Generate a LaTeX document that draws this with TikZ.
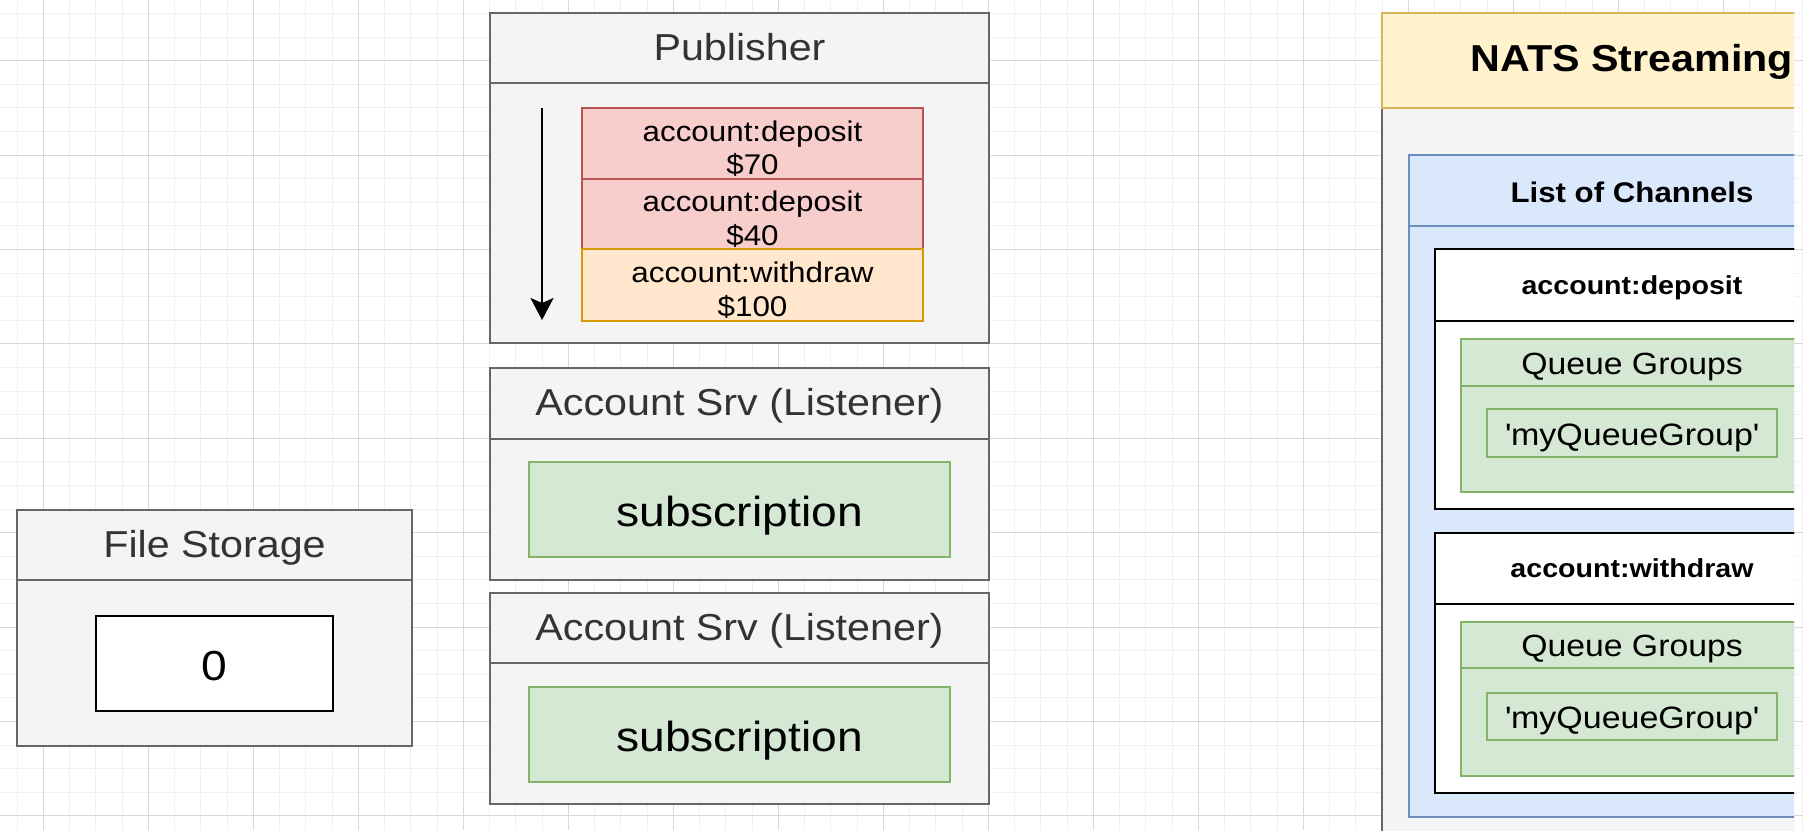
\documentclass[tikz,border=0pt]{standalone}
\usepackage{fontspec}
\setmainfont{Liberation Sans}[FakeStretch=1.1]
\usetikzlibrary{arrows.meta}
\definecolor{panefill}{HTML}{F4F4F4}
\definecolor{paneline}{HTML}{666666}
\definecolor{panetext}{HTML}{333333}
\definecolor{redfill}{HTML}{F8CECC}
\definecolor{redline}{HTML}{B85450}
\definecolor{orangefill}{HTML}{FFE6CC}
\definecolor{orangeline}{HTML}{D79B00}
\definecolor{greenfill}{HTML}{D5E8D4}
\definecolor{greenline}{HTML}{82B366}
\definecolor{bluefill}{HTML}{DAE8FC}
\definecolor{blueline}{HTML}{6C8EBF}
\definecolor{yellowfill}{HTML}{FFF2CC}
\definecolor{yellowline}{HTML}{D6B656}
\definecolor{gridminor}{HTML}{F0F0F0}
\definecolor{gridmajor}{HTML}{D8D8D8}
\tikzset{
  box/.style={rectangle,inner sep=0pt,line width=2pt},
  pane/.style={box,draw=paneline,fill=panefill,text=panetext,font=\fontsize{37.5}{40}\selectfont,text height=30pt,text depth=6pt},
  msg/.style={box,align=center,font=\fontsize{28.5}{33.3}\selectfont},
  sub/.style={box,draw=greenline,fill=greenfill,font=\fontsize{42}{44}\selectfont,text height=38pt,text depth=4pt},
  chanhead/.style={box,draw=black,fill=white,font=\fontsize{26}{28}\selectfont\bfseries,text height=22pt,text depth=4pt},
  qghead/.style={box,draw=greenline,fill=greenfill,font=\fontsize{30.7}{32}\selectfont,text height=27pt,text depth=3.4pt},
  qgname/.style={box,draw=greenline,fill=greenfill,font=\fontsize{30.9}{32}\selectfont,text height=27pt,text depth=3pt},
  queuearrow/.style={line width=2pt,-{Stealth[length=22pt,width=23pt,inset=5pt]}},
}
\newcommand{\firstline}{\rule{0pt}{31pt}}
\begin{document}
\begin{tikzpicture}[x=1pt,y=-1pt]
\useasboundingbox (0,0) rectangle (1803,830);
\fill[white] (0,0) rectangle (1803,830);
\foreach \i in {-1,...,67} \draw[gridminor,line width=1pt] ({floor(43.3+26.25*\i)+0.5},0) -- ({floor(43.3+26.25*\i)+0.5},830);
\foreach \i in {-2,...,33} \draw[gridminor,line width=1pt] (0,{floor(60.7+23.6*\i)+0.5}) -- (1803,{floor(60.7+23.6*\i)+0.5});
\foreach \i in {0,...,17} \draw[gridmajor,line width=1pt] ({floor(43.3+105*\i)+0.5},0) -- ({floor(43.3+105*\i)+0.5},830);
\foreach \i in {0,...,8} \draw[gridmajor,line width=1pt] (0,{floor(60.7+94.4*\i)+0.5}) -- (1803,{floor(60.7+94.4*\i)+0.5});
%
\node at (739.5,178) [pane,minimum width=499,minimum height=330] (pub) {};
\node at (739.5,48) [pane,minimum width=499,minimum height=70] (pubhead) {Publisher};
\node at (752.5,143.5) [msg,draw=redline,fill=redfill,minimum width=341,minimum height=71] (msg70) {\firstline account:deposit\\\$70};
\node at (752.5,214) [msg,draw=redline,fill=redfill,minimum width=341,minimum height=70] (msg40) {\firstline account:deposit\\\$40};
\node at (752.5,285) [msg,draw=orangeline,fill=orangefill,minimum width=341,minimum height=72] (msg100) {\firstline account:withdraw\\\$100};
\coordinate (qtop) at (542,108);
\coordinate (qend) at (542,320);
\draw[queuearrow] (qtop) -- (qend);
%
\node at (739.5,474) [pane,minimum width=499,minimum height=212] (lis1) {};
\node at (739.5,403.5) [pane,minimum width=499,minimum height=71] (lis1head) {Account Srv (Listener)};
\node at (739.5,509.5) [sub,minimum width=421,minimum height=95] (sub1) {subscription};
%
\node at (739.5,698.5) [pane,minimum width=499,minimum height=211] (lis2) {};
\node at (739.5,628) [pane,minimum width=499,minimum height=70] (lis2head) {Account Srv (Listener)};
\node at (739.5,734.5) [sub,minimum width=421,minimum height=95] (sub2) {subscription};
%
\node at (214.5,628) [pane,minimum width=395,minimum height=236] (store) {};
\node at (214.5,545) [pane,minimum width=395,minimum height=70] (storehead) {File Storage};
\node at (214.5,663.5) [sub,draw=black,fill=white,minimum width=237,minimum height=95] (count) {0};
%
\begin{scope}
\clip (1300,0) rectangle (1794,830);
\node at (1632,429) [box,draw=paneline,fill=panefill,minimum width=500,minimum height=832] (nats) {};
\node at (1632,60.5) [box,draw=yellowline,fill=yellowfill,font=\fontsize{37.5}{40}\selectfont\bfseries,text height=28pt,text depth=5.6pt,minimum width=500,minimum height=95] (natshead) {NATS Streaming};
%
\node at (1632,486) [box,draw=blueline,fill=bluefill,minimum width=446,minimum height=662] (chans) {};
\node at (1632,190.5) [box,draw=blueline,fill=bluefill,font=\fontsize{28.4}{30}\selectfont\bfseries,text height=26pt,text depth=2.4pt,minimum width=446,minimum height=71] (chanshead) {List of Channels};
%
\node at (1632,379) [box,draw=black,fill=white,minimum width=394,minimum height=260] (dep) {};
\node at (1632,285) [chanhead,minimum width=394,minimum height=72] (dephead) {account:deposit};
\node at (1632,415.5) [box,draw=greenline,fill=greenfill,minimum width=342,minimum height=153] (depqg) {};
\node at (1632,362.5) [qghead,minimum width=342,minimum height=47] (depqghead) {Queue Groups};
\node at (1632,433) [qgname,minimum width=290,minimum height=48] (depgroup) {\textquotesingle myQueueGroup\textquotesingle};
%
\node at (1632,663) [box,draw=black,fill=white,minimum width=394,minimum height=260] (wd) {};
\node at (1632,568.5) [chanhead,minimum width=394,minimum height=71] (wdhead) {account:withdraw};
\node at (1632,699) [box,draw=greenline,fill=greenfill,minimum width=342,minimum height=154] (wdqg) {};
\node at (1632,645) [qghead,minimum width=342,minimum height=46] (wdqghead) {Queue Groups};
\node at (1632,716.5) [qgname,minimum width=290,minimum height=47] (wdgroup) {\textquotesingle myQueueGroup\textquotesingle};
\end{scope}
\end{tikzpicture}
\end{document}
